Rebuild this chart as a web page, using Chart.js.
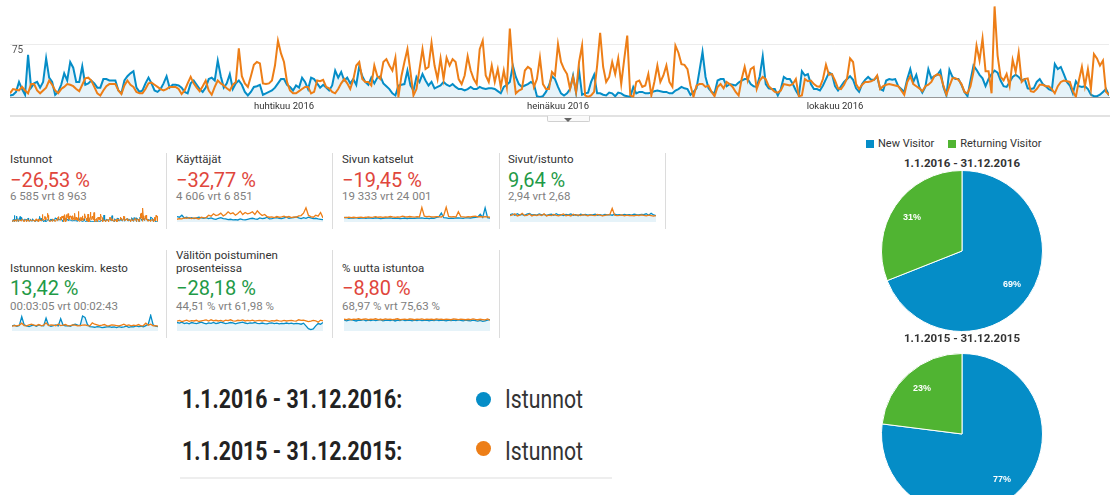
<!DOCTYPE html>
<html lang="fi">
<head>
<meta charset="utf-8">
<title>Istunnot 2016 vs 2015</title>
<script src="https://cdn.jsdelivr.net/npm/chart.js@4.4.1/dist/chart.umd.min.js"></script>
<style>
  html, body { margin: 0; padding: 0; background: #fff; }
  #page { position: relative; width: 1116px; height: 495px; overflow: hidden; font-family: Roboto, Arial, sans-serif; color: #333; }
  .abs { position: absolute; }
  canvas { display: block; }
  .card-title { font-size: 11.5px; line-height: 13px; color: #333; white-space: nowrap; }
  .card-big { font-size: 20px; line-height: 20px; white-space: nowrap; }
  .card-sub { font-size: 11.5px; line-height: 13px; color: #808080; white-space: nowrap; }
  .neg { color: #e0463c; }
  .pos { color: #1f9a47; }
  .sep { width: 1px; background: #dcdcdc; }
  .pie-title { width: 200px; text-align: center; font-size: 11.5px; line-height: 13px; font-weight: bold; color: #333; }
  .pie-legend { font-size: 11px; line-height: 13px; color: #333; white-space: nowrap; }
  .pie-legend span.box { display: inline-block; width: 8px; height: 8px; margin-right: 4px; vertical-align: -0.5px; }
  .pie-legend span.item { margin-right: 14px; }
  .big-range { font-size: 25px; line-height: 25px; font-weight: bold; color: #222; transform: scaleX(0.85); transform-origin: left top; white-space: nowrap; }
  .big-metric { font-size: 25px; line-height: 25px; color: #333; transform: scaleX(0.85); transform-origin: left top; white-space: nowrap; }
  .dot { width: 15px; height: 15px; border-radius: 50%; }
</style>
</head>
<body>
<div id="page">
  <!-- pääkaavio -->
  <canvas id="mainChart" class="abs" style="left:0;top:0" width="1116" height="115"></canvas>
  <div class="abs" style="left:10px;top:115px;width:1100px;height:2px;background:#e2e2e2"></div>
  <div class="abs" style="left:547px;top:116px;width:41px;height:5px;background:#fafafa;border:1px solid #d0d0d0;border-top:none;border-radius:0 0 2px 2px"></div>
  <div class="abs" style="left:564px;top:118px;width:0;height:0;border-left:4px solid transparent;border-right:4px solid transparent;border-top:4px solid #666"></div>

  <!-- rivi 1 -->
  <div class="abs card-title" style="left:10px;top:153px">Istunnot</div>
  <div class="abs card-big neg" style="left:10px;top:170px">−26,53 %</div>
  <div class="abs card-sub" style="left:10px;top:190px">6 585 vrt 8 963</div>
  <canvas id="sp1" class="abs" style="left:12px;top:205px" width="146" height="17"></canvas>

  <div class="abs sep" style="left:166px;top:153px;height:76px"></div>
  <div class="abs card-title" style="left:176px;top:153px">Käyttäjät</div>
  <div class="abs card-big neg" style="left:176px;top:170px">−32,77 %</div>
  <div class="abs card-sub" style="left:176px;top:190px">4 606 vrt 6 851</div>
  <canvas id="sp2" class="abs" style="left:177px;top:205px" width="146" height="17"></canvas>

  <div class="abs sep" style="left:332px;top:153px;height:76px"></div>
  <div class="abs card-title" style="left:342px;top:153px">Sivun katselut</div>
  <div class="abs card-big neg" style="left:342px;top:170px">−19,45 %</div>
  <div class="abs card-sub" style="left:342px;top:190px">19 333 vrt 24 001</div>
  <canvas id="sp3" class="abs" style="left:344px;top:205px" width="146" height="17"></canvas>

  <div class="abs sep" style="left:499px;top:153px;height:76px"></div>
  <div class="abs card-title" style="left:508px;top:153px">Sivut/istunto</div>
  <div class="abs card-big pos" style="left:508px;top:170px">9,64 %</div>
  <div class="abs card-sub" style="left:508px;top:190px">2,94 vrt 2,68</div>
  <canvas id="sp4" class="abs" style="left:510px;top:205px" width="146" height="17"></canvas>
  <div class="abs sep" style="left:665px;top:153px;height:76px"></div>

  <!-- rivi 2 -->
  <div class="abs card-title" style="left:10px;top:262px">Istunnon keskim. kesto</div>
  <div class="abs card-big pos" style="left:10px;top:278px">13,42 %</div>
  <div class="abs card-sub" style="left:10px;top:300px">00:03:05 vrt 00:02:43</div>
  <canvas id="sp5" class="abs" style="left:12px;top:314px" width="146" height="17"></canvas>

  <div class="abs sep" style="left:166px;top:250px;height:88px"></div>
  <div class="abs card-title" style="left:176px;top:249px">Välitön poistuminen<br>prosenteissa</div>
  <div class="abs card-big pos" style="left:176px;top:278px">−28,18 %</div>
  <div class="abs card-sub" style="left:176px;top:300px">44,51 % vrt 61,98 %</div>
  <canvas id="sp6" class="abs" style="left:177px;top:314px" width="146" height="17"></canvas>

  <div class="abs sep" style="left:332px;top:250px;height:88px"></div>
  <div class="abs card-title" style="left:342px;top:262px">% uutta istuntoa</div>
  <div class="abs card-big neg" style="left:342px;top:278px">−8,80 %</div>
  <div class="abs card-sub" style="left:342px;top:300px">68,97 % vrt 75,63 %</div>
  <canvas id="sp7" class="abs" style="left:344px;top:314px" width="146" height="17"></canvas>
  <div class="abs sep" style="left:499px;top:250px;height:88px"></div>

  <!-- aikavälien selite -->
  <div class="abs big-range" style="left:182px;top:387px">1.1.2016 - 31.12.2016:</div>
  <div class="abs dot" style="left:476px;top:392px;background:#058dc7"></div>
  <div class="abs big-metric" style="left:505px;top:387px">Istunnot</div>
  <div class="abs big-range" style="left:182px;top:439px">1.1.2015 - 31.12.2015:</div>
  <div class="abs dot" style="left:476px;top:441px;background:#ed7e17"></div>
  <div class="abs big-metric" style="left:505px;top:439px">Istunnot</div>
  <div class="abs" style="left:180px;top:477px;width:432px;height:2px;background:#eee"></div>

  <!-- kävijätyypit -->
  <div id="pieLegend" class="abs pie-legend" style="left:866px;top:137px"></div>
  <div class="abs pie-title" style="left:862px;top:157px">1.1.2016 - 31.12.2016</div>
  <canvas id="pie2016" class="abs" style="left:881px;top:170px" width="162" height="162"></canvas>
  <div class="abs pie-title" style="left:862px;top:332px">1.1.2015 - 31.12.2015</div>
  <canvas id="pie2015" class="abs" style="left:881px;top:353px" width="162" height="162"></canvas>
</div>

<script>
// Istunnot päivittäin, 1.1.-31.12. (366 päivää)
const sessions2016 = [
  3,4,8,22,12,4,60,14,20,22, 14,22,55,28,22,4,8,18,34,24, 50,42,22,22,44,18,20,24,20,14,
  14,26,26,24,24,24,10,6,24,30, 34,37,14,8,10,20,28,20,10,8, 12,20,30,14,18,18,17,14,8,6,
  20,24,18,12,8,14,26,28,24,52, 30,14,20,33,12,20,24,18,8,3, 8,15,16,18,4,6,8,10,14,20,
  26,26,18,15,10,17,14,28,22,12, 28,26,20,14,18,14,10,17,38,28, 36,24,28,20,26,18,44,30,22,18,
  28,20,28,30,20,16,12,6,3,17, 18,19,38,17,10,29,22,33,24,17, 22,13,15,17,22,18,16,19,15,12,
  12,10,12,15,12,12,15,13,12,13, 13,12,9,6,15,18,22,45,29,19, 15,17,19,22,19,2,1,2,8,17,
  30,26,15,6,3,6,12,31,7,38, 4,6,7,22,32,6,6,4,3,7, 6,2,7,6,3,2,1,15,6,8,
  8,6,6,7,9,10,9,8,8,6, 6,10,12,15,13,12,4,8,13,38, 64,29,13,8,6,24,26,26,16,19,
  18,17,21,24,26,26,19,16,15,30, 58,19,13,12,12,3,12,29,26,26, 19,10,3,37,31,33,19,12,12,10,
  17,26,35,33,16,10,16,22,26,30, 25,13,8,19,25,29,25,25,30,12, 10,24,26,25,26,16,12,8,26,40,
  22,32,15,7,15,40,27,30,32,38, 15,3,39,29,26,26,18,8,2,24, 45,39,32,27,16,26,33,38,35,24,
  16,15,22,29,32,29,24,26,13,12, 13,22,26,19,16,12,10,47,40,43, 33,22,17,6,23,16,15,16,12,4,
  2,2,4,8,12,3
];
const sessions2015 = [
  6,12,11,10,15,10,6,19,19,10, 6,10,14,24,18,10,6,12,15,19, 18,16,12,9,18,27,28,24,15,6,
  3,10,16,19,19,19,10,5,17,24, 18,15,8,6,6,12,20,21,18,15, 12,10,12,15,15,15,12,5,10,20,
  29,20,14,9,16,24,10,4,15,24, 20,17,13,10,18,22,69,30,20,15, 30,46,50,48,20,19,20,24,45,80,
  62,50,22,10,6,6,9,12,15,15, 6,8,24,23,25,15,13,8,6,12, 20,26,20,12,25,45,50,26,22,22,
  17,45,30,26,50,54,45,38,56,1, 30,50,68,36,3,12,40,68,40,43, 77,45,26,55,26,56,45,54,50,26,
  19,31,58,38,26,19,68,80,31,22, 45,22,40,15,38,15,97,40,6,10, 12,38,43,40,15,26,56,19,12,12,
  36,31,75,50,40,33,12,29,8,50, 73,3,1,3,8,45,91,43,22,29, 50,33,55,19,54,87,3,1,22,24,
  15,17,33,3,22,45,22,31,45,22, 15,73,63,47,46,40,17,1,17,19, 19,15,17,8,2,15,19,13,22,19,
  15,8,3,26,43,24,40,43,12,24, 29,26,16,12,8,7,10,19,18,17, 19,26,2,3,26,23,24,19,16,15,
  26,46,32,33,24,13,12,18,27,55, 50,19,12,18,22,22,23,25,31,12, 16,18,19,18,17,16,10,4,22,30,
  19,16,13,9,16,18,22,30,33,31, 17,4,16,27,27,25,19,8,6,16, 36,73,52,83,37,37,6,128,59,29,
  24,33,16,53,36,63,22,26,27,9, 8,12,18,18,16,16,12,6,16,22, 24,23,22,9,1,24,43,16,40,12,
  61,55,45,52,8,4
];
const monthTickDays = [91, 182, 274];
const monthLabels = ['huhtikuu 2016', 'heinäkuu 2016', 'lokakuu 2016'];
const gridValues = [0, 75];

// pienet trendikuvaajat (n. 6 päivän välein)
const users2016 = [16,14,20,12,14,11,13,10,12,14, 12,11,13,10,12,9,8,11,13,10, 9,7,8,6,7,6,9,7,6,8,
  10,11,9,8,12,10,11,14,9,10, 12,13,11,10,12,14,11,12,13,15, 12,10,13,11,14,12,10,11,9,8, 7];
const users2015 = [8,10,9,12,11,13,10,12,11,9, 14,12,13,20,17,24,19,21,26,18, 22,30,24,27,20,25,32,22,28,24,
  26,30,22,33,25,19,22,16,14,15, 13,16,14,15,17,14,16,13,15,14, 18,19,26,42,20,16,14,20,17,28, 12];
const pageviews2016 = [58,62,50,55,52,60,48,54,56,50, 55,52,48,57,52,46,50,54,52,56, 50,48,52,46,50,54,47,52,50,48,
  54,52,56,50,52,47,54,50,62,70, 120,58,56,50,52,50,56,54,52,50, 58,56,54,60,64,70,105,62,190,58, 52];
const pageviews2015 = [62,58,66,60,64,58,62,66,60,64, 70,62,66,72,64,68,62,70,66,74, 68,64,70,66,80,72,68,74,70,66,
  72,68,195,80,72,76,70,68,74,72, 66,90,200,76,70,72,68,140,74,70, 66,72,68,76,80,70,74,68,72,70, 64];
const pps2016 = [3.0,3.3,2.8,3.4,2.9,3.1,2.7,3.2,3.5,2.9, 3.0,2.8,3.3,2.9,3.1,2.7,3.0,3.2,2.8,3.4, 2.9,3.0,2.7,3.1,2.9,3.3,2.8,3.0,2.6,3.2,
  2.9,3.1,2.8,3.0,2.9,3.2,2.8,3.0,2.7,3.1, 2.9,3.0,2.8,3.2,2.9,3.0,2.8,3.1,2.9,3.0, 2.8,3.2,3.0,2.9,3.1,3.0,3.4,2.8,3.6,2.9, 2.6];
const pps2015 = [2.6,2.9,3.4,2.5,2.8,3.6,2.6,2.7,3.3,2.5, 2.9,2.6,3.0,2.7,3.4,2.5,2.8,2.6,3.1,2.7, 2.5,2.9,3.3,2.6,2.8,2.5,3.2,2.7,2.9,2.6,
  3.0,2.8,2.5,2.9,2.7,2.6,3.1,2.8,2.5,2.7, 2.9,3.0,5.6,2.8,2.6,2.7,2.9,2.5,2.8,2.6, 2.7,2.5,2.8,2.6,2.9,2.7,2.5,2.8,2.6,2.4, 2.6];
const duration2016 = [150,170,140,160,420,180,150,130,160,170, 140,180,160,150,380,170,140,160,180,150, 360,170,150,160,140,180,200,170,160,440,
  400,190,130,120,110,130,120,100,110,120, 130,110,120,100,130,110,120,140,110,130, 120,150,130,140,120,160,200,460,180,140, 130];
const duration2015 = [140,160,150,170,230,160,150,180,200,170, 160,190,150,170,240,160,180,170,150,200, 160,170,190,150,160,180,170,150,160,170,
  180,160,150,240,200,180,160,170,190,150, 160,180,170,160,150,170,200,160,180,150, 170,160,190,150,160,230,170,200,150,160, 140];
const bounce2016 = [50,46,52,44,48,42,50,46,44,48, 52,46,42,48,45,50,44,47,52,48, 44,46,50,48,42,46,49,52,47,44,
  48,46,50,45,43,47,44,42,46,48, 44,46,42,45,43,47,44,46,42,45, 44,40,46,30,14,8,12,30,44,40, 50];
const bounce2015 = [58,62,55,60,64,57,61,59,63,56, 60,62,65,58,66,60,63,59,62,57, 64,61,66,60,58,63,61,65,59,62,
  60,64,58,61,63,59,62,60,57,61, 59,63,60,58,62,59,61,63,60,58, 66,62,64,60,55,58,62,60,52,64, 60];
const newSess2016 = [72,66,70,74,68,65,71,69,73,66, 70,68,72,67,70,74,66,69,71,68, 72,65,70,68,73,67,69,71,66,70,
  68,72,67,69,71,66,70,68,72,67, 70,69,66,71,68,70,67,72,69,66, 70,68,65,70,67,64,68,62,66,70, 74];
const newSess2015 = [76,74,78,73,77,75,79,74,76,78, 73,77,75,79,74,76,73,78,75,77, 74,76,79,73,75,77,74,78,76,73,
  77,75,78,74,76,75,77,73,78,75, 76,74,77,75,73,78,76,74,77,75, 73,76,74,78,75,73,76,74,72,78, 70];

// kävijätyypit
const visitorTypes = ['New Visitor', 'Returning Visitor'];
const visitors2016 = [69, 31];
const visitors2015 = [77, 23];

const BLUE = '#058dc7';
const ORANGE = '#ed7e17';
const GREEN = '#50b432';
const BLUE_FILL = 'rgba(5,141,199,0.10)';

Chart.defaults.font.family = 'Roboto, Arial, sans-serif';

// Pääkaavio
new Chart(document.getElementById('mainChart'), {
  type: 'line',
  data: {
    datasets: [
      {
        label: '1.1.2016 - 31.12.2016: Istunnot',
        data: sessions2016.map((v, i) => ({ x: i, y: v })),
        borderColor: BLUE,
        backgroundColor: BLUE_FILL,
        fill: 'origin',
        borderWidth: 2,
        pointRadius: 0,
        tension: 0,
        order: 2
      },
      {
        label: '1.1.2015 - 31.12.2015: Istunnot',
        data: sessions2015.map((v, i) => ({ x: i, y: v })),
        borderColor: ORANGE,
        fill: false,
        borderWidth: 2,
        pointRadius: 0,
        tension: 0,
        order: 1
      }
    ]
  },
  options: {
    responsive: false,
    animation: false,
    layout: { padding: { left: 10, right: 7, top: 0, bottom: 0 } },
    plugins: { legend: { display: false }, tooltip: { enabled: false } },
    scales: {
      x: {
        type: 'linear',
        min: 0,
        max: sessions2016.length - 1,
        afterBuildTicks: (scale) => { scale.ticks = monthTickDays.map(v => ({ value: v })); },
        afterFit: (scale) => { scale.paddingLeft = 0; scale.paddingRight = 0; },
        ticks: {
          autoSkip: false,
          maxRotation: 0,
          padding: 3,
          color: '#333',
          font: { size: 9.5 },
          callback: (v) => monthLabels[monthTickDays.indexOf(v)]
        },
        grid: { display: false, drawTicks: false },
        border: { display: true, color: '#999', width: 1 }
      },
      y: {
        min: 0,
        max: 137,
        afterBuildTicks: (scale) => { scale.ticks = gridValues.map(v => ({ value: v })); },
        afterFit: (scale) => { scale.width = 0; scale.paddingTop = 0; scale.paddingBottom = 0; },
        ticks: {
          mirror: true,
          padding: 2,
          labelOffset: 6,
          color: '#555',
          font: { size: 10 },
          callback: (v) => (v === 0 ? '' : v)
        },
        grid: {
          drawTicks: false,
          color: (ctx) => (ctx.tick && ctx.tick.value === 0 ? 'rgba(0,0,0,0)' : '#ececec')
        },
        border: { display: false }
      }
    }
  }
});

// Trendikuvaajat
function sparkline(id, cur, prev, yMax, width) {
  const n = Math.max(cur.length, prev.length);
  new Chart(document.getElementById(id), {
    type: 'line',
    data: {
      labels: Array.from({ length: n }, (_, i) => i),
      datasets: [
        { data: cur, borderColor: BLUE, backgroundColor: BLUE_FILL, fill: 'origin', borderWidth: width, pointRadius: 0, order: 2 },
        { data: prev, borderColor: ORANGE, fill: false, borderWidth: width, pointRadius: 0, order: 1 }
      ]
    },
    options: {
      responsive: false,
      animation: false,
      layout: { padding: 0 },
      plugins: { legend: { display: false }, tooltip: { enabled: false } },
      scales: {
        x: { display: false },
        y: { display: false, min: 0, max: yMax }
      }
    }
  });
}
sparkline('sp1', sessions2016, sessions2015, 156, 1);
sparkline('sp2', users2016, users2015, 50, 1.3);
sparkline('sp3', pageviews2016, pageviews2015, 230, 1.3);
sparkline('sp4', pps2016, pps2015, 7, 1.3);
sparkline('sp5', duration2016, duration2015, 500, 1.3);
sparkline('sp6', bounce2016, bounce2015, 100, 1.3);
sparkline('sp7', newSess2016, newSess2015, 110, 1.3);

// Piirakat
const pieLabels = {
  id: 'pieLabels',
  afterDatasetsDraw(chart) {
    const { ctx } = chart;
    const values = chart.data.datasets[0].data;
    ctx.save();
    ctx.fillStyle = '#fff';
    ctx.font = 'bold 9px Arial, sans-serif';
    ctx.textAlign = 'center';
    ctx.textBaseline = 'middle';
    chart.getDatasetMeta(0).data.forEach((arc, i) => {
      const p = arc.getProps(['x', 'y', 'startAngle', 'endAngle', 'outerRadius'], true);
      const a = (p.startAngle + p.endAngle) / 2;
      const r = p.outerRadius * 0.75;
      ctx.fillText(values[i] + '%', p.x + Math.cos(a) * r, p.y + Math.sin(a) * r);
    });
    ctx.restore();
  }
};

function pie(id, values) {
  new Chart(document.getElementById(id), {
    type: 'pie',
    data: {
      labels: visitorTypes,
      datasets: [{ data: values, backgroundColor: [BLUE, GREEN], borderColor: '#fff', borderWidth: 1 }]
    },
    options: {
      responsive: false,
      animation: false,
      layout: { padding: 0 },
      plugins: { legend: { display: false }, tooltip: { enabled: false } }
    },
    plugins: [pieLabels]
  });
}
pie('pie2016', visitors2016);
pie('pie2015', visitors2015);

// Piirakoiden selite
const legendColors = [BLUE, GREEN];
document.getElementById('pieLegend').innerHTML = visitorTypes
  .map((t, i) => `<span class="item"><span class="box" style="background:${legendColors[i]}"></span>${t}</span>`)
  .join('');
</script>
</body>
</html>
